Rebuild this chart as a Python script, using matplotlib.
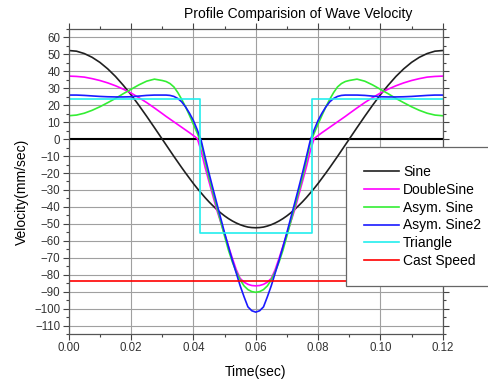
import matplotlib
matplotlib.use("Agg")
import matplotlib.pyplot as plt
from matplotlib.ticker import MultipleLocator

plt.rcParams['font.family'] = ['Liberation Sans', 'DejaVu Sans']

# time axis (sec): 2.5 ms steps on the flanks, 1.25 ms steps around the dip
time = [0.0, 0.0025, 0.005, 0.0075, 0.01, 0.0125, 0.015, 0.0175, 0.02, 0.0225, 0.025, 0.0275,
        0.03, 0.03125, 0.0325, 0.03375, 0.035, 0.03625, 0.0375, 0.03875, 0.04, 0.04125,
        0.0425, 0.04375, 0.045, 0.04625, 0.0475, 0.04875, 0.05, 0.05125, 0.0525, 0.05375,
        0.055, 0.05625, 0.0575, 0.05875, 0.06,
        0.06125, 0.0625, 0.06375, 0.065, 0.06625, 0.0675, 0.06875, 0.07, 0.07125, 0.0725,
        0.07375, 0.075, 0.07625, 0.0775, 0.07875, 0.08, 0.08125, 0.0825, 0.08375, 0.085,
        0.08625, 0.0875, 0.08875, 0.09,
        0.0925, 0.095, 0.0975, 0.1, 0.1025, 0.105, 0.1075, 0.11, 0.1125, 0.115, 0.1175, 0.12]

sine = [52.3, 51.9, 50.5, 48.3, 45.3, 41.5, 37.0, 31.8, 26.2, 20.0, 13.5, 6.8,
        0.0, -3.4, -6.8, -10.2, -13.5, -16.8, -20.0, -23.1, -26.2, -29.1, -31.8, -34.5,
        -37.0, -39.3, -41.5, -43.5, -45.3, -46.9, -48.3, -49.5, -50.5, -51.3, -51.9, -52.2, -52.3,
        -52.2, -51.9, -51.3, -50.5, -49.5, -48.3, -46.9, -45.3, -43.5, -41.5, -39.3, -37.0,
        -34.5, -31.8, -29.1, -26.2, -23.1, -20.0, -16.8, -13.5, -10.2, -6.8, -3.4, 0.0,
        6.8, 13.5, 20.0, 26.2, 31.8, 37.0, 41.5, 45.3, 48.3, 50.5, 51.9, 52.3]

double_sine = [37.2, 37.0, 36.6, 35.7, 34.6, 33.2, 31.5, 29.5, 27.2, 24.5, 21.6, 18.4,
               15.1, 13.4, 11.8, 10.2, 8.6, 7.0, 5.4, 3.8, 2.1, 0.4, -7.0, -16.5,
               -25.0, -33.4, -41.7, -48.9, -56.0, -63.1, -70.3, -77.0, -82.2, -84.4, -85.7, -86.4, -86.6,
               -86.4, -85.7, -84.4, -82.2, -77.0, -70.3, -63.1, -56.0, -48.9, -41.7, -33.4, -25.0,
               -16.5, -7.0, 0.4, 2.1, 3.8, 5.4, 7.0, 8.6, 10.2, 11.8, 13.4, 15.1,
               18.4, 21.6, 24.5, 27.2, 29.5, 31.5, 33.2, 34.6, 35.7, 36.6, 37.0, 37.2]

asym_sine = [13.8, 14.2, 15.3, 17.0, 19.1, 21.5, 24.0, 26.8, 29.4, 32.0, 34.2, 35.4,
             34.6, 34.0, 32.8, 30.8, 27.5, 23.5, 19.0, 14.0, 8.8, 3.5, -2.5, -12.9,
             -22.8, -31.4, -40.0, -48.6, -57.2, -65.5, -72.5, -78.3, -83.0, -86.6, -88.8, -90.0, -90.4,
             -90.0, -88.8, -86.6, -83.0, -78.3, -72.5, -65.5, -57.2, -48.6, -40.0, -31.4, -22.8,
             -12.9, -2.5, 3.5, 8.8, 14.0, 19.0, 23.5, 27.5, 30.8, 32.8, 34.0, 34.6,
             35.4, 34.2, 32.0, 29.4, 26.8, 24.0, 21.5, 19.1, 17.0, 15.3, 14.2, 13.8]

asym_sine2 = [26.0, 26.0, 25.8, 25.5, 25.2, 25.0, 24.9, 24.9, 25.0, 25.4, 25.8, 26.0,
              26.0, 26.0, 25.8, 25.2, 24.0, 22.0, 19.0, 15.3, 11.0, 5.5, -0.8, -10.5,
              -20.0, -29.0, -37.8, -46.5, -55.2, -63.5, -71.5, -79.0, -86.5, -93.0, -99.0, -101.3, -102.1,
              -101.3, -99.0, -93.0, -86.5, -79.0, -71.5, -63.5, -55.2, -46.5, -37.8, -29.0, -20.0,
              -10.5, -0.8, 5.5, 11.0, 15.3, 19.0, 22.0, 24.0, 25.2, 25.8, 26.0, 26.0,
              26.0, 25.8, 25.4, 25.0, 24.9, 24.9, 25.0, 25.2, 25.5, 25.8, 26.0, 26.0]

tri_time = [0.0, 0.042, 0.042, 0.078, 0.078, 0.12]
triangle = [23.5, 23.5, -55.4, -55.4, 23.5, 23.5]

cast_time = [0.0, 0.12]
cast_speed = [-83.5, -83.5]

fig = plt.figure(figsize=(4.88, 3.83), dpi=100)
ax = fig.add_axes([0.1408, 0.128, 0.7664, 0.7963])

ax.grid(True, which='major', color='#a0a0a0', lw=0.8)
ax.set_axisbelow(True)
ax.axhline(0, color='black', lw=1.5, zorder=2)

ax.plot(time, sine, color='#202020', lw=1.2, label='Sine')
ax.plot(time, double_sine, color='#ff00ff', lw=1.2, label='DoubleSine')
ax.plot(time, asym_sine, color='#33ee33', lw=1.2, label='Asym. Sine')
ax.plot(time, asym_sine2, color='#1a1aff', lw=1.2, label='Asym. Sine2')
ax.plot(tri_time, triangle, color='#22eeee', lw=1.2, label='Triangle')
ax.plot(cast_time, cast_speed, color='#ff0000', lw=1.2, label='Cast Speed')

ax.set_xlim(0, 0.12)
ax.set_ylim(-115, 65)
ax.xaxis.set_major_locator(MultipleLocator(0.02))
ax.xaxis.set_minor_locator(MultipleLocator(0.01))
ax.yaxis.set_major_locator(MultipleLocator(10))
ax.yaxis.set_minor_locator(MultipleLocator(5))
ax.set_xticks([0, 0.02, 0.04, 0.06, 0.08, 0.10, 0.12])
ax.set_xticklabels(['0.00', '0.02', '0.04', '0.06', '0.08', '0.10', '0.12'])

ax.tick_params(which='both', top=True, right=True, labelsize=8.3, labelcolor='#333333',
               color='#444444', width=0.8)
ax.tick_params(which='major', length=4, pad=2)
ax.tick_params(which='minor', length=2.5)
for spine in ax.spines.values():
    spine.set_color('#555555')
    spine.set_linewidth(0.9)

fig.text(0.612, 0.963, 'Profile Comparision of Wave Velocity', ha='center', va='center',
         fontsize=10)
fig.text(0.045, 0.499, 'Velocity(mm/sec)', ha='center', va='center', rotation=90,
         fontsize=10)
fig.text(0.523, 0.029, 'Time(sec)', ha='center', va='center', fontsize=10)

leg = fig.legend(loc='upper left', bbox_to_anchor=(0.709, 0.616), fontsize=10,
                 frameon=True, fancybox=False, shadow=False, borderpad=1.3,
                 handlelength=2.5, handletextpad=0.3, labelspacing=0.27, borderaxespad=0)
leg.get_frame().set_edgecolor('#666666')
leg.get_frame().set_linewidth(0.9)
leg.get_frame().set_alpha(1)

fig.savefig('out.png', dpi=100)
